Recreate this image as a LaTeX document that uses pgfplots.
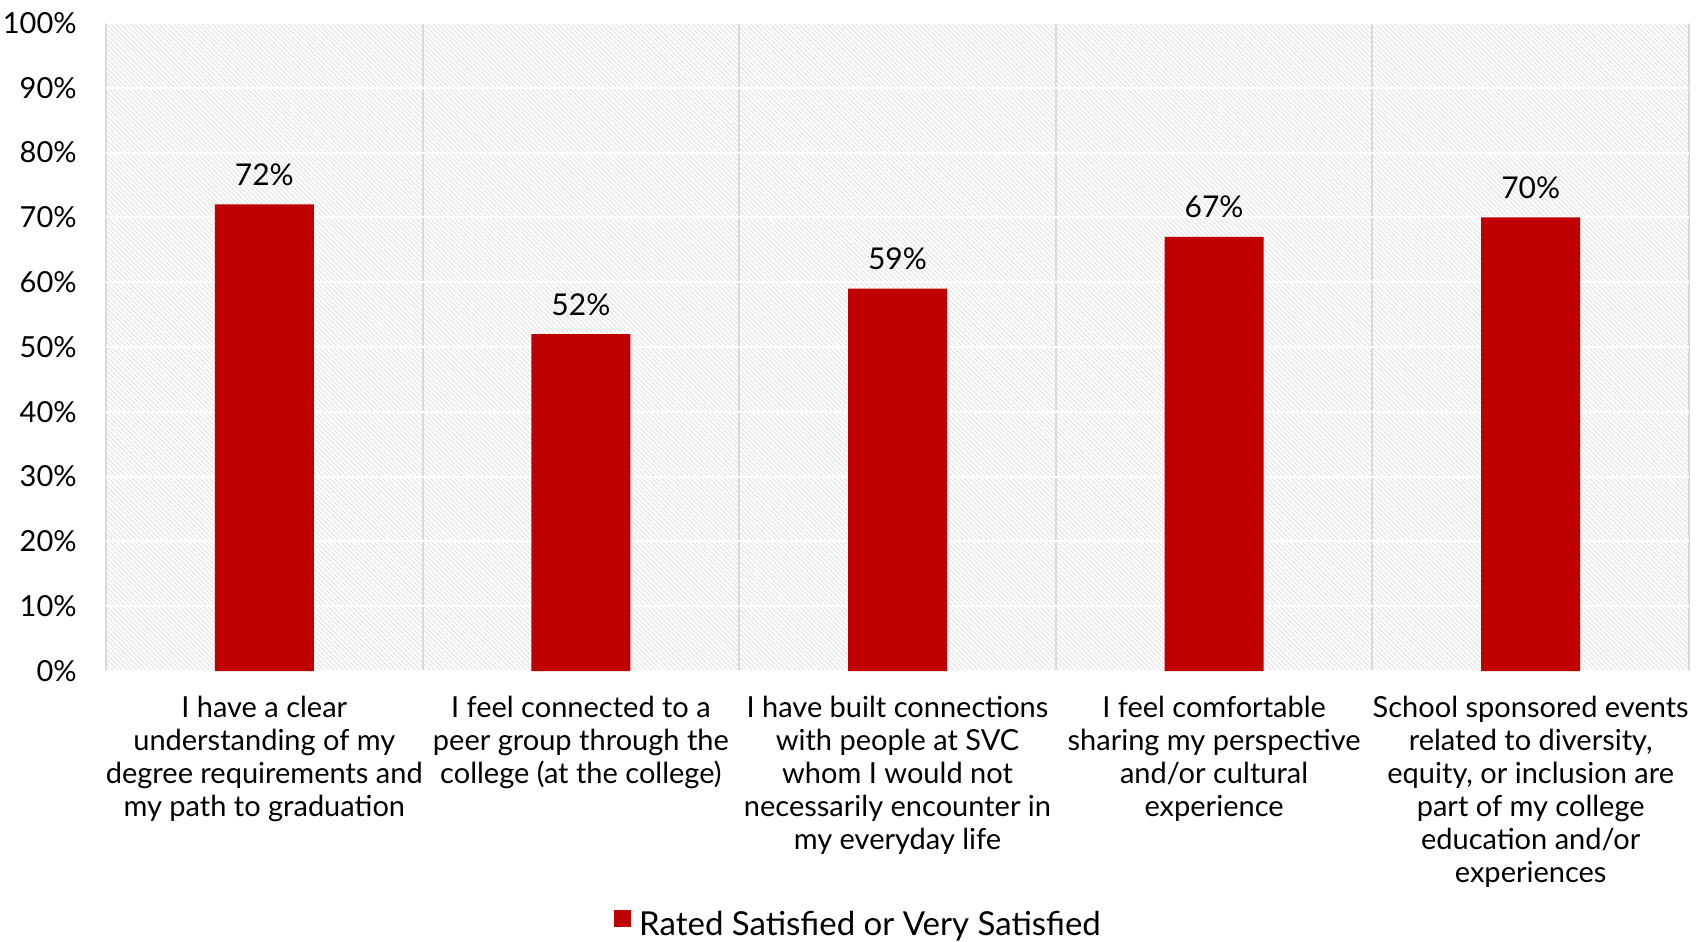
\documentclass[border=0pt]{standalone}
\usepackage{fontspec}
\setmainfont{Lato}
\usepackage{pgfplots}
\pgfplotsset{compat=1.18}
\usetikzlibrary{patterns.meta}
\definecolor{barred}{HTML}{C00000}
\definecolor{sep}{HTML}{D9D9D9}
\definecolor{hatch}{HTML}{E6E6E6}
\begin{document}
\begin{tikzpicture}
\begin{axis}[name=ax, scale only axis, width=791.5bp, height=324bp,
  ybar, bar width=49.5bp,
  xmin=-0.5, xmax=4.5, ymin=0, ymax=100,
  xtick={0,1,2,3,4},
  xticklabels={{I have a clear\\understanding of my\\degree requirements and\\my path to graduation},
               {I feel connected to a\\peer group through the\\college (at the college)},
               {I have built connections\\with people at SVC\\whom I would not\\necessarily encounter in\\my everyday life},
               {I feel comfortable\\sharing my perspective\\and/or cultural\\experience},
               {School sponsored events\\related to diversity,\\equity, or inclusion are\\part of my college\\education and/or\\experiences}},
  minor xtick={-0.5,0.5,1.5,2.5,3.5,4.5},
  xminorgrids=true, minor x grid style={sep, line width=1bp},
  ytick={0,10,...,100}, ymajorgrids=true, major y grid style={white, line width=1bp},
  axis line style={draw=none}, major tick length=0pt, minor tick length=0pt,
  /pgf/number format/assume math mode=true,
  yticklabel={\pgfmathprintnumber{\tick}\%},
  yticklabel style={font=\fontsize{14.5bp}{18bp}\selectfont, anchor=east, inner sep=0pt, xshift=-14.5bp},
  xticklabel style={font=\fontsize{14.5bp}{16.5bp}\selectfont, align=center, anchor=north, inner sep=0pt, yshift=-12.5bp},
  axis background/.style={pattern={Lines[angle=-45,distance=1.7bp,line width=0.6bp]}, pattern color=hatch},
  nodes near coords={\pgfmathprintnumber{\pgfplotspointmeta}\%},
  nodes near coords style={font=\fontsize{15bp}{18bp}\selectfont, text=black, anchor=base, inner sep=0pt, yshift=9.5bp},
  legend style={at={(0.476,-0.392)}, anchor=center, draw=none, fill=none, font=\fontsize{16.5bp}{18bp}\selectfont,
    /tikz/every even column/.append style={column sep=0pt}},
  legend image code/.code={\fill[barred] (0bp,-1bp) rectangle (8.5bp,7.5bp);},
]
\addplot[fill=barred, draw=none] coordinates {(0,72) (1,52) (2,59) (3,67) (4,70)};
\addlegendentry{\hspace{2bp}Rated Satisfied or Very Satisfied}
\end{axis}
\pgfresetboundingbox
\path ([xshift=-53bp,yshift=-135.5bp]ax.south west) rectangle ([xshift=8bp,yshift=11.5bp]ax.north east);
\end{tikzpicture}
\end{document}
